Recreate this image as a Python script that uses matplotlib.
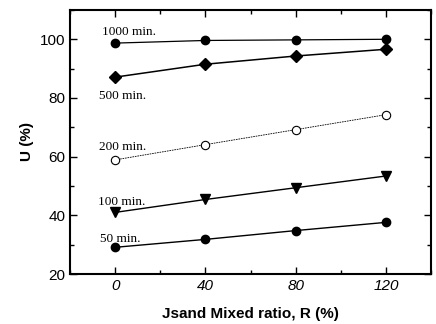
import matplotlib
matplotlib.use("Agg")
import matplotlib.pyplot as plt
from matplotlib.ticker import MultipleLocator

ratio = [0, 40, 80, 120]
u_1000 = [98.7, 99.6, 99.8, 100.0]
u_500 = [87.1, 91.5, 94.3, 96.6]
u_200 = [58.9, 64.1, 69.2, 74.3]
u_100 = [41.0, 45.4, 49.4, 53.4]
u_50 = [29.1, 31.8, 34.8, 37.6]

fig = plt.figure(figsize=(4.36, 3.24), dpi=100)
ax = fig.add_axes([0.1606, 0.1543, 0.828, 0.815])

ax.plot(ratio, u_1000, '-', color='black', lw=0.9, marker='o', ms=6)
ax.plot(ratio, u_500, '-', color='black', lw=1.1, marker='D', ms=5.8)
ax.plot(ratio, u_200, '--', color='black', lw=0.6, dashes=(2, 1), marker='o', ms=6, mfc='white', mew=0.8)
ax.plot(ratio, u_100, '-', color='black', lw=1.0, marker='v', ms=7)
ax.plot(ratio, u_50, '-', color='black', lw=1.0, marker='o', ms=6)

serif = dict(family='Liberation Serif', fontsize=9.5)
ax.text(-6, 101.5, '1000 min.', **serif)
ax.text(-7, 79.5, '500 min.', **serif)
ax.text(-7, 62.3, '200 min.', **serif)
ax.text(-7.5, 43.5, '100 min.', **serif)
ax.text(-6.5, 31.0, '50 min.', **serif)

ax.set_xlim(-20, 140)
ax.set_ylim(20, 110)
ax.xaxis.set_major_locator(MultipleLocator(40))
ax.xaxis.set_minor_locator(MultipleLocator(20))
ax.yaxis.set_major_locator(MultipleLocator(20))
ax.yaxis.set_minor_locator(MultipleLocator(10))
ax.tick_params(which='both', direction='in', top=True, right=True)
ax.tick_params(which='major', length=5, width=1)
ax.tick_params(which='minor', length=3, width=1)
ax.tick_params(axis='y', labelsize=11)
ax.tick_params(axis='x', labelsize=11)
for lab in ax.get_xticklabels():
    lab.set_fontstyle('italic')
    lab.set_family('Liberation Sans')
for lab in ax.get_yticklabels():
    lab.set_family('Liberation Sans')
for sp in ax.spines.values():
    sp.set_linewidth(1.5)

ax.set_xlabel('Jsand Mixed ratio, R (%)', family='Liberation Sans', fontweight='bold', fontsize=11, labelpad=10)
ax.set_ylabel('U (%)', family='Liberation Sans', fontweight='bold', fontsize=11, labelpad=4)

fig.savefig('out.png', dpi=100)
